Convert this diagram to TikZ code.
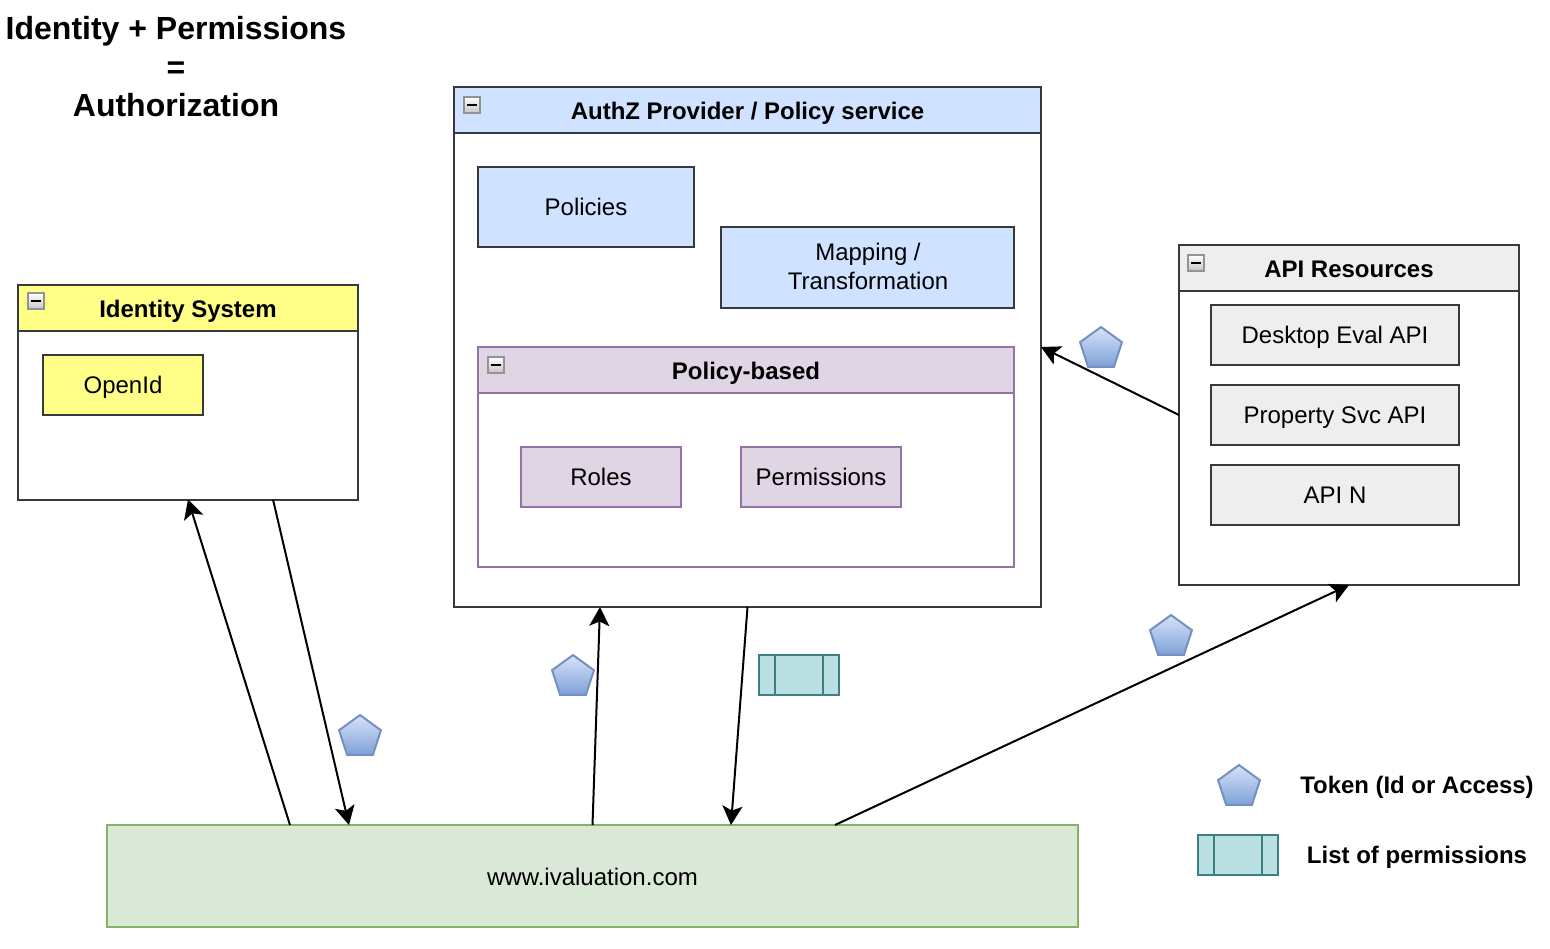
\documentclass[tikz,border=0pt]{standalone}
\usepackage{fontspec}
\setmainfont{Liberation Sans}
\usetikzlibrary{arrows.meta,calc,shapes.geometric}
\definecolor{edgedark}{HTML}{36393D}
\definecolor{bluefill}{HTML}{CFE2FF}
\definecolor{yellowfill}{HTML}{FFFF88}
\definecolor{purplefill}{HTML}{DFD5E5}
\definecolor{purpleedge}{HTML}{9673A6}
\definecolor{grayfill}{HTML}{EEEEEE}
\definecolor{greenfill}{HTML}{DAE8D8}
\definecolor{greenedge}{HTML}{82B366}
\definecolor{pentedge}{HTML}{7390C0}
\definecolor{penttop}{HTML}{D6E3F8}
\definecolor{pentbot}{HTML}{7FA1D8}
\definecolor{listfill}{HTML}{BBE0E3}
\definecolor{listedge}{HTML}{3D7F84}
\tikzset{
  x=1pt,y=-1pt,
  boxbase/.style={draw=edgedark,line width=2pt,outer sep=0pt,inner sep=0pt,align=center,
    font=\fontsize{24}{29}\selectfont,text=black,text height=19pt,text depth=3pt},
  headtext/.style={font=\fontsize{24}{29}\selectfont\bfseries,text height=20pt,text depth=2pt},
  conn/.style={draw=black,line width=2pt,-{Stealth[length=19pt,width=20pt,inset=4.5pt]}},
  pentshape/.style={regular polygon,regular polygon sides=5,minimum size=44pt,inner sep=0pt,outer sep=0pt,
    draw=pentedge,line width=2pt,top color=penttop,bottom color=pentbot,shading angle=0},
  permlist/.style={draw=listedge,fill=listfill,line width=2pt,minimum width=80pt,minimum height=40pt,inner sep=0pt,outer sep=0pt},
  permline/.style={draw=listedge,line width=2pt},
  minusicon/.style={draw=gray!85,line width=1.6pt,top color=white,bottom color=gray!45,minimum size=16pt,inner sep=0pt,outer sep=0pt},
  minusbar/.style={draw=black,line width=1.6pt},
  plain/.style={inner sep=0pt,outer sep=0pt,align=center,text=black},
}
% name x0 y0 x1 y1 style text
\newcommand{\pxbox}[7]{\node[boxbase,#6,minimum width={#4-#2},minimum height={#5-#3}] (#1) at ({(#2+#4)/2},{(#3+#5)/2}) {#7};}
\newcommand{\minusat}[3]{\node[minusicon] (#1) at (#2,#3) {};\draw[minusbar] ($(#1.center)+(-5,0)$) -- ($(#1.center)+(5,0)$);}
\newcommand{\listat}[3]{\node[permlist] (#1) at (#2,#3) {};\draw[permline] ($(#1.north west)+(16,0)$) -- ($(#1.south west)+(16,0)$);\draw[permline] ($(#1.north east)+(-16,0)$) -- ($(#1.south east)+(-16,0)$);}
\begin{document}
\begin{tikzpicture}
\useasboundingbox (0,0) rectangle (1550,948);

% title
\node[plain,font=\fontsize{32}{38.5}\selectfont\bfseries] (title) at (176,67) {Identity + Permissions\\=\\Authorization};

% identity system
\pxbox{identity}{18}{285}{358}{499.5}{fill=white}{}
\pxbox{identityhead}{18}{285}{358}{331}{fill=yellowfill,headtext}{Identity System}
\minusat{identitymin}{36}{301}
\pxbox{openid}{43}{355}{203}{415}{fill=yellowfill}{OpenId}

% authz
\pxbox{authz}{454}{87}{1041}{607}{fill=white}{}
\pxbox{authzhead}{454}{87}{1041}{133}{fill=bluefill,headtext}{AuthZ Provider / Policy service}
\minusat{authzmin}{472}{105}
\pxbox{policies}{478}{167}{694}{247}{fill=bluefill}{Policies}
\pxbox{mapping}{721}{227}{1014}{308}{fill=bluefill}{}
\node[plain,font=\fontsize{24}{29}\selectfont] (mappingtext) at (868,266.5) {Mapping /\\Transformation};

% policy-based
\pxbox{policy}{478}{347}{1014}{567}{fill=white,draw=purpleedge}{}
\pxbox{policyhead}{478}{347}{1014}{393}{fill=purplefill,draw=purpleedge,headtext}{Policy-based}
\minusat{policymin}{496}{365}
\pxbox{roles}{521}{447}{681}{507}{fill=purplefill,draw=purpleedge}{Roles}
\pxbox{permissions}{741}{447}{901}{507}{fill=purplefill,draw=purpleedge}{Permissions}

% api resources
\pxbox{api}{1179}{245}{1519}{585}{fill=white}{}
\pxbox{apihead}{1179}{245}{1519}{291}{fill=grayfill,headtext}{API Resources}
\minusat{apimin}{1196}{263}
\pxbox{desktop}{1211}{305}{1459}{365}{fill=grayfill}{Desktop Eval API}
\pxbox{property}{1211}{385}{1459}{445}{fill=grayfill}{Property Svc API}
\pxbox{apin}{1211}{465}{1459}{525}{fill=grayfill}{API N}

% web
\pxbox{web}{107}{825}{1078}{927}{fill=greenfill,draw=greenedge,text height=20pt,text depth=2pt}{www.ivaluation.com}

% connector ends
\coordinate (webA) at ($(web.north west)+(183,0)$);
\coordinate (webB) at ($(web.north west)+(242,0)$);
\coordinate (webC) at ($(web.north west)+(624,0)$);
\coordinate (webD) at ($(web.north west)+(728,0)$);
\coordinate (idB) at ($(identity.south west)+(255,0)$);
\coordinate (azB) at ($(authz.south west)+(146,0)$);

\draw[conn] (webA) -- (identity.south);
\draw[conn] (idB) -- (webB);
\draw[conn] (web.north) -- (azB);
\draw[conn] (authz.south) -- (webC);
\draw[conn] (webD) -- (api.south);
\draw[conn] (api.west) -- (authz.east);

% tokens
\node[pentshape] (tok1) at (360,737) {};
\node[pentshape] (tok2) at (573,677) {};
\node[pentshape] (tok3) at (1171,637) {};
\node[pentshape] (tok4) at (1101,349) {};
\node[pentshape] (tok5) at (1239,787) {};

% lists
\listat{list1}{799}{675}
\listat{list2}{1238}{855}

% legend
\node[plain,font=\fontsize{23.9}{29}\selectfont\bfseries] (legtok) at (1417,787) {Token (Id or Access)};
\node[plain,font=\fontsize{24}{29}\selectfont\bfseries] (leglist) at (1417,857) {List of permissions};
\end{tikzpicture}
\end{document}
